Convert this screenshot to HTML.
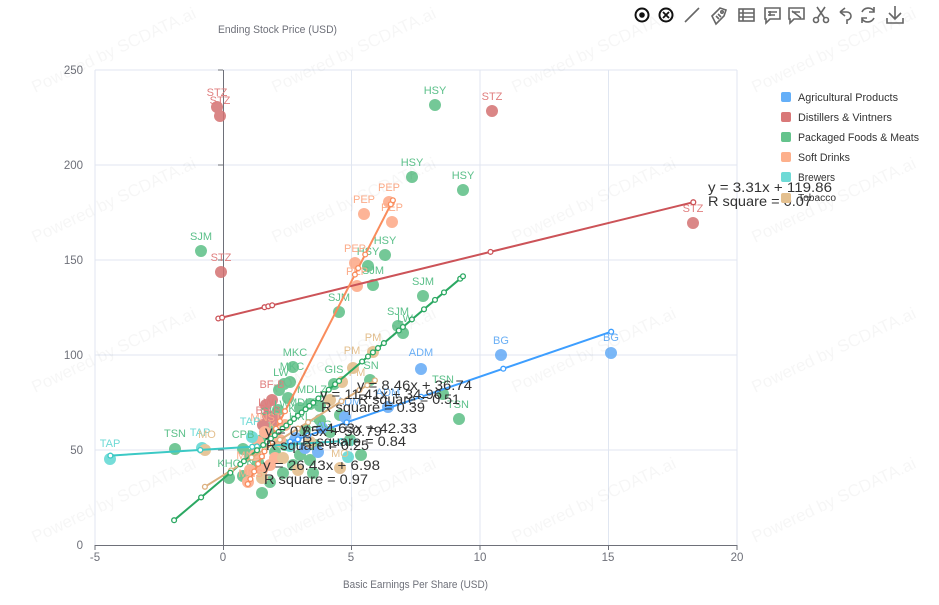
<!DOCTYPE html>
<html><head><meta charset="utf-8"><style>
html,body{margin:0;padding:0;background:#fff;}
svg{display:block;font-family:"Liberation Sans",sans-serif;}
</style></head><body>
<svg width="939" height="605" viewBox="0 0 939 605" xmlns="http://www.w3.org/2000/svg">
<rect width="939" height="605" fill="#fff"/>
<!-- grid -->
<g stroke="#e0e6f1" stroke-width="1" fill="none">
<line x1="95" y1="70" x2="737" y2="70"/><line x1="95" y1="165" x2="737" y2="165"/><line x1="95" y1="260" x2="737" y2="260"/><line x1="95" y1="355" x2="737" y2="355"/><line x1="95" y1="450" x2="737" y2="450"/>
<line x1="95" y1="70" x2="95" y2="545"/><line x1="351.5" y1="70" x2="351.5" y2="545"/><line x1="480" y1="70" x2="480" y2="545"/><line x1="608.5" y1="70" x2="608.5" y2="545"/><line x1="737" y1="70" x2="737" y2="545"/>
</g>
<!-- axes -->
<g stroke="#6e7079" stroke-width="1">
<line x1="223.5" y1="70" x2="223.5" y2="545"/>
<line x1="218" y1="70" x2="223" y2="70"/><line x1="218" y1="165" x2="223" y2="165"/><line x1="218" y1="260" x2="223" y2="260"/><line x1="218" y1="355" x2="223" y2="355"/><line x1="218" y1="450" x2="223" y2="450"/>
<line x1="95" y1="545.5" x2="737" y2="545.5"/>
<line x1="95" y1="545" x2="95" y2="550"/><line x1="223.5" y1="545" x2="223.5" y2="550"/><line x1="351.5" y1="545" x2="351.5" y2="550"/><line x1="480" y1="545" x2="480" y2="550"/><line x1="608.5" y1="545" x2="608.5" y2="550"/><line x1="737" y1="545" x2="737" y2="550"/>
</g>
<g fill="#6e7079" font-size="11.5">
<text x="83" y="74" text-anchor="end">250</text><text x="83" y="169" text-anchor="end">200</text><text x="83" y="264" text-anchor="end">150</text><text x="83" y="359" text-anchor="end">100</text><text x="83" y="454" text-anchor="end">50</text><text x="83" y="549" text-anchor="end">0</text>
<text x="95" y="561" text-anchor="middle">-5</text><text x="223" y="561" text-anchor="middle">0</text><text x="351" y="561" text-anchor="middle">5</text><text x="480" y="561" text-anchor="middle">10</text><text x="608" y="561" text-anchor="middle">15</text><text x="737" y="561" text-anchor="middle">20</text>
<text x="218" y="33" textLength="119" lengthAdjust="spacingAndGlyphs" font-size="11">Ending Stock Price (USD)</text>
<text x="343" y="588" textLength="145" lengthAdjust="spacingAndGlyphs" font-size="11">Basic Earnings Per Share (USD)</text>
</g>

<!-- scatter dots -->
<g opacity="0.85">
<g fill="#5cbf86">
<circle cx="435" cy="105" r="6"/><circle cx="412" cy="177" r="6"/><circle cx="463" cy="190" r="6"/><circle cx="385" cy="255" r="6"/><circle cx="368" cy="266" r="6"/>
<circle cx="201" cy="251" r="6"/><circle cx="373" cy="285" r="6"/><circle cx="423" cy="296" r="6"/><circle cx="339" cy="312" r="6"/><circle cx="398" cy="326" r="6"/><circle cx="403" cy="333" r="6"/>
<circle cx="459" cy="419" r="6"/><circle cx="443" cy="394" r="6"/><circle cx="175" cy="449" r="6"/>
<circle cx="293" cy="367" r="6"/><circle cx="290" cy="382" r="6"/><circle cx="284" cy="384" r="6"/><circle cx="279" cy="390" r="6"/><circle cx="334" cy="384" r="6"/><circle cx="370" cy="380" r="6"/>
<circle cx="310" cy="404" r="6"/><circle cx="300" cy="408" r="6"/><circle cx="288" cy="398" r="6"/><circle cx="243" cy="449" r="6"/><circle cx="229" cy="478" r="6"/>
<circle cx="262" cy="493" r="6"/><circle cx="270" cy="482" r="6"/><circle cx="283" cy="473" r="6"/><circle cx="293" cy="465" r="6"/><circle cx="313" cy="473" r="6"/><circle cx="361" cy="455" r="6"/>
<circle cx="300" cy="455" r="6"/><circle cx="285" cy="445" r="6"/><circle cx="305" cy="430" r="6"/><circle cx="320" cy="420" r="6"/><circle cx="270" cy="428" r="6"/><circle cx="258" cy="462" r="6"/>
<circle cx="320" cy="406" r="6"/><circle cx="250" cy="455" r="6"/><circle cx="275" cy="452" r="6"/><circle cx="310" cy="460" r="6"/><circle cx="330" cy="432" r="6"/><circle cx="243" cy="476" r="6"/>
<circle cx="340" cy="415" r="6"/><circle cx="262" cy="440" r="6"/><circle cx="295" cy="440" r="6"/><circle cx="315" cy="445" r="6"/><circle cx="350" cy="440" r="6"/><circle cx="278" cy="410" r="6"/>
</g>
<g fill="#d47272">
<circle cx="217" cy="107" r="6"/><circle cx="220" cy="116" r="6"/><circle cx="221" cy="272" r="6"/><circle cx="492" cy="111" r="6"/><circle cx="693" cy="223" r="6"/>
<circle cx="272" cy="400" r="6"/><circle cx="266" cy="405" r="6"/><circle cx="268" cy="416" r="6"/><circle cx="263" cy="425" r="6"/><circle cx="276" cy="420" r="6"/>
</g>
<g fill="#63aaf6">
<circle cx="611" cy="353" r="6"/><circle cx="501" cy="355" r="6"/><circle cx="421" cy="369" r="6"/><circle cx="345" cy="417" r="6"/><circle cx="388" cy="407" r="6"/>
<circle cx="322" cy="428" r="6"/><circle cx="305" cy="448" r="6"/><circle cx="318" cy="452" r="6"/><circle cx="296" cy="438" r="6"/>
</g>
<g fill="#fda886">
<circle cx="389" cy="202" r="6"/><circle cx="364" cy="214" r="6"/><circle cx="392" cy="222" r="6"/><circle cx="355" cy="263" r="6"/><circle cx="357" cy="286" r="6"/>
<circle cx="250" cy="470" r="6"/><circle cx="248" cy="482" r="6"/><circle cx="262" cy="470" r="6"/><circle cx="275" cy="458" r="6"/><circle cx="280" cy="440" r="6"/>
<circle cx="265" cy="432" r="6"/><circle cx="258" cy="442" r="6"/><circle cx="285" cy="425" r="6"/><circle cx="255" cy="455" r="6"/><circle cx="270" cy="465" r="6"/>
</g>
<g fill="#5ed7d2">
<circle cx="110" cy="459" r="6"/><circle cx="202" cy="448" r="6"/><circle cx="252" cy="437" r="6"/><circle cx="348" cy="457" r="6"/><circle cx="290" cy="446" r="6"/>
</g>
<g fill="#e2bb88">
<circle cx="205" cy="450" r="6"/><circle cx="340" cy="468" r="6"/><circle cx="373" cy="352" r="6"/><circle cx="353" cy="368" r="6"/><circle cx="342" cy="382" r="6"/>
<circle cx="283" cy="458" r="6"/><circle cx="310" cy="442" r="6"/><circle cx="330" cy="400" r="6"/><circle cx="298" cy="470" r="6"/><circle cx="262" cy="478" r="6"/>
</g>
</g>

<!-- labels -->
<g font-size="11" text-anchor="middle">
<g fill="#5cc08a">
<text x="435" y="94">HSY</text><text x="412" y="166">HSY</text><text x="463" y="179">HSY</text><text x="385" y="244">HSY</text><text x="368" y="255">HSY</text>
<text x="201" y="240">SJM</text><text x="373" y="274">SJM</text><text x="423" y="285">SJM</text><text x="339" y="301">SJM</text><text x="398" y="315">SJM</text><text x="405" y="322">LW</text>
<text x="458" y="408">TSN</text><text x="443" y="383">TSN</text><text x="175" y="437">TSN</text>
<text x="295" y="356">MKC</text><text x="292" y="370">MKC</text><text x="281" y="376">LW</text><text x="334" y="373">GIS</text><text x="371" y="369">SN</text>
<text x="312" y="393">MDLZ</text><text x="303" y="406">MDLZ</text><text x="282" y="408">LW</text><text x="292" y="412">K</text>
<text x="243" y="438">CPB</text><text x="229" y="467">KHC</text><text x="250" y="465">K</text><text x="300" y="420">HRL</text><text x="320" y="428">CAG</text><text x="270" y="415">GIS</text>
</g>
<g fill="#e07e7e">
<text x="217" y="96">STZ</text><text x="220" y="104">STZ</text><text x="221" y="261">STZ</text><text x="492" y="100">STZ</text><text x="693" y="212">STZ</text>
<text x="272" y="388">BF-B</text><text x="268" y="414">BF-B</text><text x="266" y="406">LW</text>
</g>
<g fill="#6aaff5">
<text x="611" y="341">BG</text><text x="501" y="344">BG</text><text x="421" y="356">ADM</text><text x="349" y="405">ADM</text><text x="388" y="396">ADM</text>
</g>
<g fill="#fcab88">
<text x="389" y="191">PEP</text><text x="364" y="203">PEP</text><text x="392" y="211">PEP</text><text x="355" y="252">PEP</text><text x="357" y="275">PEP</text>
<text x="252" y="459">MNST</text><text x="266" y="421">MNST</text><text x="275" y="447">KO</text><text x="280" y="429">KDP</text><text x="254" y="477">MNST</text>
</g>
<g fill="#6fdad6">
<text x="110" y="447">TAP</text><text x="200" y="436">TAP</text><text x="250" y="425">TAP</text><text x="348" y="446">TAP</text>
</g>
<g fill="#e4c08f">
<text x="207" y="438">MO</text><text x="340" y="457">MO</text><text x="373" y="341">PM</text><text x="352" y="354">PM</text><text x="357" y="376">PM</text>
</g>
</g>

<!-- regression lines -->
<g fill="none" stroke-width="2">
<polyline stroke="#cc5358" points="218.3,318.5 693.3,202.2"/>
<polyline stroke="#3d9eff" points="290.2,441.7 611.2,331.7"/>
<polyline stroke="#2ba862" points="174.1,520.2 463,276.3"/>
<polyline stroke="#f98c5c" points="247.8,484 392.9,200.3"/>
<polyline stroke="#3cc9c5" points="110.4,455.6 341.5,441.1"/>
<polyline stroke="#dcb07f" points="204.9,486.8 374.9,380.4"/>
</g>
<g fill="#fff" stroke-width="1.3">
<g stroke="#cc5358">
<circle cx="218.3" cy="318.5" r="2.4"/><circle cx="222.1" cy="317.6" r="2.4"/><circle cx="264.5" cy="307.2" r="2.4"/><circle cx="268.3" cy="306.3" r="2.4"/><circle cx="272.2" cy="305.3" r="2.4"/><circle cx="490.5" cy="251.9" r="2.4"/><circle cx="693.3" cy="202.2" r="2.4"/>
</g>
<g stroke="#3d9eff">
<circle cx="290.2" cy="441.7" r="2.4"/><circle cx="297.9" cy="439.4" r="2.4"/><circle cx="308.1" cy="435.5" r="2.4"/><circle cx="346.7" cy="422.4" r="2.4"/><circle cx="421.1" cy="396.8" r="2.4"/><circle cx="503.3" cy="368.7" r="2.4"/><circle cx="611.2" cy="331.7" r="2.4"/>
</g>
<g stroke="#3cc9c5">
<circle cx="110.4" cy="455.6" r="2.4"/><circle cx="200.3" cy="450" r="2.4"/><circle cx="252.2" cy="446.7" r="2.4"/><circle cx="257" cy="446.4" r="2.4"/><circle cx="341.5" cy="441.1" r="2.4"/>
</g>
<g stroke="#dcb07f">
<circle cx="204.9" cy="486.8" r="2.4"/><circle cx="231.1" cy="470.4" r="2.4"/><circle cx="251.6" cy="457.5" r="2.4"/><circle cx="264.5" cy="449.5" r="2.4"/><circle cx="279.9" cy="439.8" r="2.4"/><circle cx="297.9" cy="428.6" r="2.4"/><circle cx="308.1" cy="422.2" r="2.4"/><circle cx="341.5" cy="401.3" r="2.4"/><circle cx="359.5" cy="390" r="2.4"/><circle cx="367.2" cy="385.2" r="2.4"/><circle cx="374.9" cy="380.4" r="2.4"/>
</g>
<g stroke="#f98c5c">
<circle cx="247.8" cy="484" r="2.4"/><circle cx="250.4" cy="479" r="2.4"/><circle cx="254.2" cy="471.5" r="2.4"/><circle cx="258.1" cy="463.9" r="2.4"/><circle cx="261.9" cy="456.4" r="2.4"/><circle cx="264.5" cy="451.4" r="2.4"/><circle cx="268.3" cy="443.9" r="2.4"/><circle cx="272.2" cy="436.3" r="2.4"/><circle cx="276" cy="428.8" r="2.4"/><circle cx="279.9" cy="421.3" r="2.4"/><circle cx="285" cy="411.2" r="2.4"/><circle cx="354.9" cy="274.6" r="2.4"/><circle cx="358.2" cy="268.1" r="2.4"/><circle cx="365.2" cy="254.5" r="2.4"/><circle cx="390.8" cy="204.3" r="2.4"/><circle cx="392.9" cy="200.3" r="2.4"/>
</g>
<g stroke="#2ba862">
<circle cx="174.1" cy="520.2" r="2.4"/><circle cx="201.1" cy="497.4" r="2.4"/><circle cx="230.3" cy="472.7" r="2.4"/><circle cx="240.3" cy="464.3" r="2.4"/><circle cx="243.9" cy="461.2" r="2.4"/><circle cx="257" cy="450.2" r="2.4"/><circle cx="263.2" cy="445" r="2.4"/><circle cx="267.1" cy="441.7" r="2.4"/><circle cx="270.9" cy="438.5" r="2.4"/><circle cx="274.8" cy="435.2" r="2.4"/><circle cx="278.6" cy="432" r="2.4"/><circle cx="282.5" cy="428.7" r="2.4"/><circle cx="286.3" cy="425.5" r="2.4"/><circle cx="290.2" cy="422.2" r="2.4"/><circle cx="294" cy="418.9" r="2.4"/><circle cx="297.9" cy="415.7" r="2.4"/><circle cx="301.7" cy="412.5" r="2.4"/><circle cx="305.6" cy="409.2" r="2.4"/><circle cx="309.4" cy="405.9" r="2.4"/><circle cx="313.3" cy="402.7" r="2.4"/><circle cx="318.4" cy="398.4" r="2.4"/><circle cx="323.6" cy="394" r="2.4"/><circle cx="328.7" cy="389.7" r="2.4"/><circle cx="335.1" cy="384.3" r="2.4"/><circle cx="339" cy="381" r="2.4"/><circle cx="362.1" cy="361.5" r="2.4"/><circle cx="368" cy="356.5" r="2.4"/><circle cx="372.9" cy="352.4" r="2.4"/><circle cx="378" cy="348.1" r="2.4"/><circle cx="383.9" cy="343.1" r="2.4"/><circle cx="398.8" cy="330.5" r="2.4"/><circle cx="402.9" cy="327" r="2.4"/><circle cx="411.9" cy="319.4" r="2.4"/><circle cx="424" cy="309.3" r="2.4"/><circle cx="435" cy="299.9" r="2.4"/><circle cx="444" cy="292.4" r="2.4"/><circle cx="460.2" cy="278.7" r="2.4"/><circle cx="463" cy="276.3" r="2.4"/>
</g>
</g>

<!-- regression equations -->
<g fill="#333" font-size="14">
<text x="708" y="192" textLength="124" lengthAdjust="spacingAndGlyphs">y = 3.31x + 119.86</text>
<text x="708" y="206" textLength="104" lengthAdjust="spacingAndGlyphs">R square = 0.07</text>
<text x="357" y="390" textLength="115" lengthAdjust="spacingAndGlyphs">y = 8.46x + 36.74</text>
<text x="358" y="404" textLength="102" lengthAdjust="spacingAndGlyphs">R square = 0.51</text>
<text x="320" y="399" textLength="122" lengthAdjust="spacingAndGlyphs">y = 11.41x + 34.96</text>
<text x="321" y="412" textLength="104" lengthAdjust="spacingAndGlyphs">R square = 0.39</text>
<text x="301" y="433" textLength="116" lengthAdjust="spacingAndGlyphs">y = 4.63x + 42.33</text>
<text x="302" y="446" textLength="104" lengthAdjust="spacingAndGlyphs">R square = 0.84</text>
<text x="265" y="436" textLength="117" lengthAdjust="spacingAndGlyphs">y = 0.85x + 50.79</text>
<text x="266" y="450" textLength="103" lengthAdjust="spacingAndGlyphs">R square = 0.25</text>
<text x="263" y="470" textLength="117" lengthAdjust="spacingAndGlyphs">y = 26.43x + 6.98</text>
<text x="264" y="484" textLength="104" lengthAdjust="spacingAndGlyphs">R square = 0.97</text>
</g>

<!-- legend -->
<g font-size="11" fill="#333">
<rect x="781" y="92" width="10" height="10" rx="2" fill="#64aff8"/><text x="798" y="101" textLength="100" lengthAdjust="spacingAndGlyphs">Agricultural Products</text>
<rect x="781" y="112" width="10" height="10" rx="2" fill="#d97878"/><text x="798" y="121" textLength="94" lengthAdjust="spacingAndGlyphs">Distillers &amp; Vintners</text>
<rect x="781" y="132" width="10" height="10" rx="2" fill="#64c38c"/><text x="798" y="141" textLength="121" lengthAdjust="spacingAndGlyphs">Packaged Foods &amp; Meats</text>
<rect x="781" y="152" width="10" height="10" rx="2" fill="#fdb08c"/><text x="798" y="161" textLength="52" lengthAdjust="spacingAndGlyphs">Soft Drinks</text>
<rect x="781" y="172" width="10" height="10" rx="2" fill="#6edad6"/><text x="798" y="181" textLength="37" lengthAdjust="spacingAndGlyphs">Brewers</text>
<rect x="781" y="193" width="10" height="10" rx="2" fill="#e4c08f"/><text x="798" y="201" font-size="10" textLength="38" lengthAdjust="spacingAndGlyphs">Tobacco</text>
</g>

<!-- toolbox -->
<g fill="none" stroke-width="1.6">
<g stroke="#111">
<circle cx="642" cy="15" r="6.5" stroke-width="2"/><circle cx="642" cy="15" r="2.8" fill="#111" stroke="none"/>
<circle cx="666" cy="15" r="6.5" stroke-width="2"/><path d="M663 12 L669 18 M669 12 L663 18" stroke-width="1.8"/>
</g>
<g stroke="#666">
<path d="M685 22 L699 8"/>
<path d="M712 16 L720 8 L726 10 L724 16 L716 24 Z"/><circle cx="722" cy="12" r="1.2"/><path d="M716 16 l3 3 M718 14 l3 3"/>
<rect x="739" y="9" width="15" height="12"/><path d="M739 13 H754 M739 17 H754 M743 9 V21"/>
<path d="M765 8 H780 V19 H770 L766 23 V19 H765 Z M768 12 H777 M768 15 H775 M770 11 V16"/>
<path d="M789 8 H804 V19 H794 L790 23 V19 H789 Z M792 11 L801 18 M792 12 H800"/>
<circle cx="816" cy="20" r="2.5"/><circle cx="826" cy="20" r="2.5"/><path d="M817.5 18 L825 7 M824.5 18 L817 7"/>
<path d="M840 12 L845 8 M840 12 L845 16 M840 12 H847 A4 4 0 0 1 847 20 V24"/>
<path d="M874 11 A7 7 0 0 0 862 12 M862 19 A7 7 0 0 0 874 18 M874 7 V12 H869 M862 23 V18 H867"/>
<path d="M895 6 V19 M889 13 L895 19 L901 13 M887 18 V23 H903 V18"/>
</g>
</g>

<!-- watermarks -->
<g font-size="17" fill="#000" fill-opacity="0.035">
<text transform="translate(35,93) rotate(-25)">Powered by SCDATA.ai</text>
<text transform="translate(275,93) rotate(-25)">Powered by SCDATA.ai</text>
<text transform="translate(515,93) rotate(-25)">Powered by SCDATA.ai</text>
<text transform="translate(755,93) rotate(-25)">Powered by SCDATA.ai</text>
<text transform="translate(35,243) rotate(-25)">Powered by SCDATA.ai</text>
<text transform="translate(275,243) rotate(-25)">Powered by SCDATA.ai</text>
<text transform="translate(515,243) rotate(-25)">Powered by SCDATA.ai</text>
<text transform="translate(755,243) rotate(-25)">Powered by SCDATA.ai</text>
<text transform="translate(35,393) rotate(-25)">Powered by SCDATA.ai</text>
<text transform="translate(275,393) rotate(-25)">Powered by SCDATA.ai</text>
<text transform="translate(515,393) rotate(-25)">Powered by SCDATA.ai</text>
<text transform="translate(755,393) rotate(-25)">Powered by SCDATA.ai</text>
<text transform="translate(35,543) rotate(-25)">Powered by SCDATA.ai</text>
<text transform="translate(275,543) rotate(-25)">Powered by SCDATA.ai</text>
<text transform="translate(515,543) rotate(-25)">Powered by SCDATA.ai</text>
<text transform="translate(755,543) rotate(-25)">Powered by SCDATA.ai</text>
</g>
</svg>
</body></html>
